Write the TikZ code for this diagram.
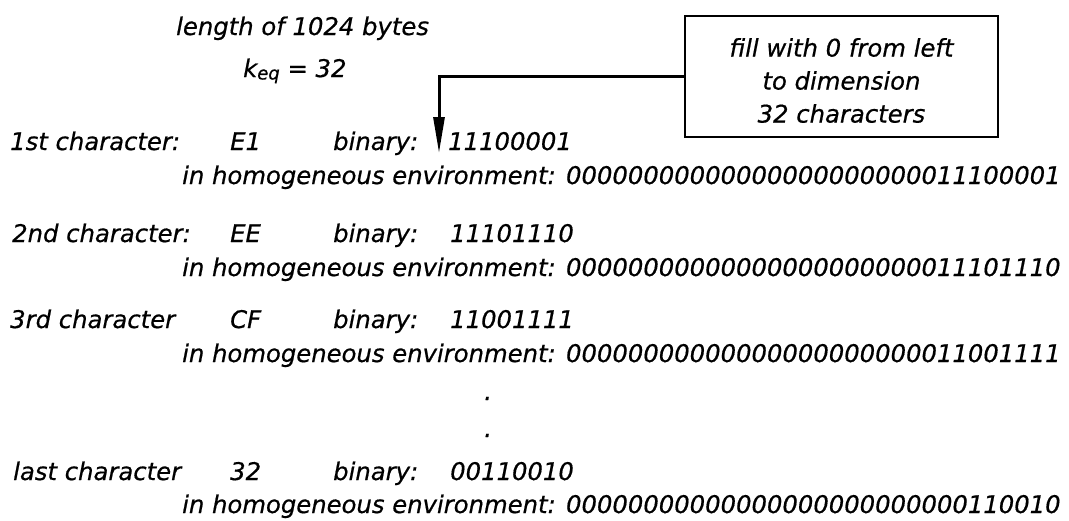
\documentclass[tikz,border=0pt]{standalone}
\usepackage{fontspec}
\setmainfont{DejaVu Sans}[ItalicFeatures={FakeBold=0.6}]
\usetikzlibrary{arrows.meta}
\tikzset{
  txt/.style={anchor=base west, inner sep=0pt, font=\fontsize{24.3}{33}\selectfont\itshape},
  notebox/.style={draw, line width=1.5pt, minimum width=313pt, minimum height=121pt, inner sep=0pt},
  notetext/.style={inner sep=0pt, align=center, font=\fontsize{24.3}{33}\selectfont\itshape},
  pointer/.style={line width=3pt, -{Triangle[length=36pt,width=11pt]}}
}
\begin{document}
\begin{tikzpicture}[x=1pt,y=-1pt]
\useasboundingbox (0,0) rectangle (1069,520);

% header
\node[txt] (len) at (176,35) {length of 1024 bytes};
\node[txt] (keq) at (243,77) {k\raisebox{-2.5pt}{\fontsize{18}{18}\selectfont eq} = 32};

% annotation box and its pointer
\node[notebox] (box) at (841.5,76.5) {};
\node[notetext] (note) at (841.5,80.5) {fill with 0 from left\\to dimension\\32 characters};
\coordinate (tip) at (439,153);
\draw[pointer] (box.west) -| (tip);

% first character
\node[txt] (r1lab) at (10,150) {1st character:};
\node[txt] (r1hex) at (230,150) {E1};
\node[txt] (r1bin) at (333,150) {binary:};
\node[txt] (r1bits) at (448,150) {11100001};
\node[txt] (r1env) at (182,184) {in homogeneous environment: 00000000000000000000000011100001};

% second character
\node[txt] (r2lab) at (12,242) {2nd character:};
\node[txt] (r2hex) at (230,242) {EE};
\node[txt] (r2bin) at (333,242) {binary:};
\node[txt] (r2bits) at (450,242) {11101110};
\node[txt] (r2env) at (182,276) {in homogeneous environment: 00000000000000000000000011101110};

% third character
\node[txt] (r3lab) at (10,328) {3rd character};
\node[txt] (r3hex) at (230,328) {CF};
\node[txt] (r3bin) at (333,328) {binary:};
\node[txt] (r3bits) at (450,328) {11001111};
\node[txt] (r3env) at (182,362) {in homogeneous environment: 00000000000000000000000011001111};

% ellipsis
\node[txt] (dot1) at (484,400) {.};
\node[txt] (dot2) at (484,437) {.};

% last character
\node[txt] (r4lab) at (13,480) {last character};
\node[txt] (r4hex) at (230,480) {32};
\node[txt] (r4bin) at (333,480) {binary:};
\node[txt] (r4bits) at (450,480) {00110010};
\node[txt] (r4env) at (182,513) {in homogeneous environment: 00000000000000000000000000110010};
\end{tikzpicture}
\end{document}
